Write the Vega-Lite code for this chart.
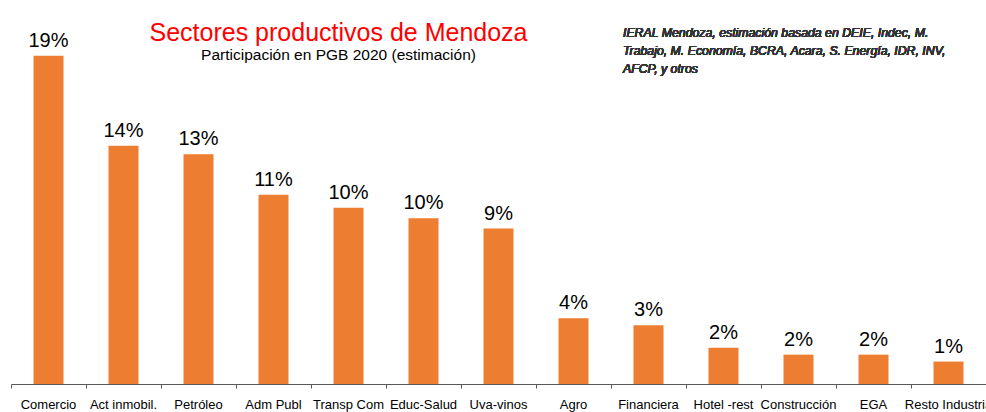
{
  "$schema": "https://vega.github.io/schema/vega-lite/v6.json",
  "autosize": {"type": "none"},
  "padding": {"left": 11, "top": 4, "right": 0, "bottom": 28},
  "width": 975,
  "height": 380,
  "background": "white",
  "config": {"view": {"stroke": null}, "font": "Liberation Sans"},
  "title": {
    "text": "Sectores productivos de Mendoza",
    "subtitle": "Participación  en PGB 2020 (estimación)",
    "anchor": "middle",
    "frame": "group",
    "dx": -160,
    "offset": -59,
    "color": "#FF0000",
    "fontSize": 25,
    "fontWeight": "normal",
    "font": "Liberation Sans",
    "subtitleFontSize": 15.5,
    "subtitleColor": "#000000",
    "subtitleFont": "Liberation Sans",
    "subtitlePadding": 2
  },
  "data": {
    "values": [
      {"sector": "Comercio", "share": 0.190},
      {"sector": "Act inmobil.", "share": 0.138},
      {"sector": "Petróleo", "share": 0.133},
      {"sector": "Adm Publ", "share": 0.1095},
      {"sector": "Transp Com", "share": 0.102},
      {"sector": "Educ-Salud", "share": 0.096},
      {"sector": "Uva-vinos", "share": 0.090},
      {"sector": "Agro", "share": 0.038},
      {"sector": "Financiera", "share": 0.034},
      {"sector": "Hotel -rest", "share": 0.021},
      {"sector": "Construcción", "share": 0.017},
      {"sector": "EGA", "share": 0.017},
      {"sector": "Resto Industria", "share": 0.013}
    ]
  },
  "encoding": {
    "x": {
      "field": "sector",
      "type": "nominal",
      "sort": null,
      "scale": {"paddingInner": 0, "paddingOuter": 0},
      "axis": {
        "title": null,
        "labelAngle": 0,
        "labelFontSize": 13,
        "labelColor": "#000000",
        "labelFont": "Liberation Sans",
        "labelPadding": 10,
        "labelOverlap": false,
        "labelBound": false,
        "bandPosition": 0,
        "tickSize": 4,
        "tickColor": "#595959",
        "domainColor": "#595959",
        "grid": false
      }
    },
    "y": {
      "field": "share",
      "type": "quantitative",
      "scale": {"domain": [0, 0.22]},
      "axis": null
    }
  },
  "layer": [
    {
      "mark": {"type": "bar", "color": "#ED7D31", "width": {"band": 0.4}}
    },
    {
      "mark": {"type": "text", "fontSize": 20, "baseline": "alphabetic", "dy": -9, "color": "#000000", "font": "Liberation Sans"},
      "encoding": {"text": {"field": "share", "type": "quantitative", "format": ".0%"}}
    },
    {
      "mark": {"type": "text", "align": "left", "baseline": "top", "fontStyle": "italic", "fontWeight": "normal", "fontSize": 12.3, "lineHeight": 18, "dx": 12, "color": "#333333", "font": "Liberation Sans"},
      "encoding": {
        "x": {"datum": "Financiera", "type": "nominal", "bandPosition": 0},
        "y": {"datum": 0.2066, "type": "quantitative"},
        "text": {"value": ["IERAL Mendoza, estimación  basada en DEIE,  Indec, M.", "Trabajo, M. Economía, BCRA, Acara, S. Energía, IDR,  INV,", "AFCP, y otros"]}
      }
    }
  ]
}
